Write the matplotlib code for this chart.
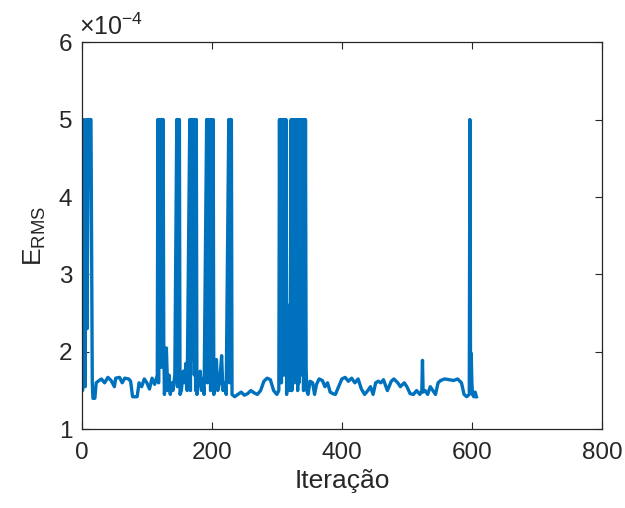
import numpy as np
import matplotlib
matplotlib.use('Agg')
import matplotlib.pyplot as plt

plt.rcParams['font.family'] = ['Liberation Sans', 'DejaVu Sans']

# iteration / E_RMS (in units of 1e-4)
iters = [0, 1, 3, 5, 7, 8, 10, 12, 14, 16, 17, 20,
         22, 25, 30, 35, 40, 45, 50, 52, 58, 62, 66, 72, 75, 78, 85,
         88, 92, 96, 100, 104, 108, 112, 116,
         117, 118, 119, 120, 121, 122, 123, 124, 125, 126, 127,
         128, 130, 132, 134, 136, 138, 140, 143,
         146, 147, 148, 149, 150, 151,
         153, 156, 158, 160, 162,
         166, 167, 168, 169, 170, 171, 172, 173, 174, 175, 176, 177,
         179, 182, 184, 186, 188,
         192, 193, 195, 196, 197, 198, 199, 200, 201, 202, 203,
         205, 207, 209, 212, 215, 217, 220, 222,
         226, 227, 228, 229, 230, 231,
         235, 240, 245, 250, 255, 260, 265, 270, 275, 280, 285, 290, 295, 300,
         303, 304, 305, 306, 307, 308, 309, 310, 311, 312, 313, 314, 315, 316,
         317, 318, 320, 322, 323, 324, 325, 326, 327, 328, 329, 330, 331, 332,
         333, 334, 335, 336, 337, 338, 339, 340, 341, 342, 343, 344, 345, 346,
         348, 351, 355, 358, 361, 365, 370, 374, 378, 382, 386, 390, 395, 400,
         405, 410, 415, 420, 425, 430, 435, 440, 444, 448, 452, 456, 460, 464,
         470, 476, 480, 486, 490, 496, 500, 505, 510, 515, 520, 523, 524, 525,
         528, 532, 536, 540, 544, 548, 552, 558, 565, 572, 578, 584, 588, 592,
         596, 597, 598, 599, 600, 601, 603, 605, 607]
erms = [2.25, 1.5, 5.0, 1.55, 5.0, 2.3, 5.0, 5.0, 5.0, 1.6, 1.4, 1.4,
        1.6, 1.62, 1.65, 1.6, 1.67, 1.63, 1.55, 1.66, 1.67, 1.6, 1.66, 1.65, 1.62, 1.42, 1.42,
        1.6, 1.55, 1.65, 1.6, 1.52, 1.66, 1.58, 1.7,
        5.0, 1.6, 5.0, 2.05, 5.0, 1.8, 5.0, 2.0, 5.0, 2.1, 1.45,
        1.6, 2.05, 1.5, 1.7, 1.45, 1.6, 1.5, 1.7,
        5.0, 1.55, 5.0, 1.6, 5.0, 1.45,
        1.5, 1.75, 1.6, 1.85, 1.5,
        5.0, 1.5, 5.0, 1.9, 5.0, 4.0, 5.0, 1.7, 5.0, 1.5, 5.0, 1.45,
        1.6, 1.75, 1.5, 1.65, 1.45,
        5.0, 1.6, 5.0, 4.9, 5.0, 1.5, 5.0, 1.8, 4.8, 5.0, 1.45,
        1.6, 1.9, 1.5, 1.6, 1.95, 1.5, 1.6, 1.45,
        5.0, 1.6, 5.0, 5.0, 5.0, 1.45,
        1.42, 1.45, 1.48, 1.44, 1.46, 1.5, 1.47, 1.45, 1.5, 1.62, 1.66, 1.64, 1.5, 1.45,
        1.5, 5.0, 2.3, 5.0, 1.6, 5.0, 2.0, 5.0, 1.7, 5.0, 2.2, 5.0, 1.45, 2.4,
        1.6, 2.6, 1.5, 5.0, 1.5, 5.0, 2.0, 5.0, 1.6, 5.0, 3.0, 5.0, 5.0, 1.5,
        5.0, 1.6, 5.0, 2.0, 5.0, 5.0, 1.7, 5.0, 1.5, 5.0, 2.3, 5.0, 1.8, 1.5,
        1.45, 1.62, 1.6, 1.45, 1.58, 1.65, 1.63, 1.55, 1.6, 1.48, 1.46, 1.45, 1.55, 1.65,
        1.67, 1.62, 1.66, 1.6, 1.65, 1.52, 1.45, 1.5, 1.55, 1.45, 1.6, 1.62, 1.6, 1.64,
        1.5, 1.62, 1.65, 1.6, 1.55, 1.6, 1.55, 1.46, 1.45, 1.5, 1.45, 1.5, 1.89, 1.48,
        1.5, 1.45, 1.55, 1.5, 1.45, 1.6, 1.63, 1.65, 1.64, 1.63, 1.65, 1.6, 1.45, 1.42,
        1.45, 5.0, 1.5, 1.98, 1.6, 1.45, 1.42, 1.48, 1.42]

fig = plt.figure(figsize=(6.25, 5.08), dpi=100)
ax = fig.add_axes([0.131, 0.155, 0.832, 0.762])

ax.plot(iters, erms, color='#0072BD', linewidth=2.4)

ax.set_xlim(0, 800)
ax.set_ylim(1, 6)
ax.set_xticks([0, 200, 400, 600, 800])
ax.set_yticks([1, 2, 3, 4, 5, 6])
ax.tick_params(direction='in', length=5, width=0.8, top=True, right=True,
               labelsize=17.5, colors='#262626')
ax.tick_params(axis='x', pad=9)
ax.tick_params(axis='y', pad=7)
for s in ax.spines.values():
    s.set_color('#262626')
    s.set_linewidth(0.9)

ax.set_xlabel('Iteração', fontsize=19, color='#262626', labelpad=4)
ax.set_ylabel(r'$\mathregular{E_{RMS}}$', fontsize=19, color='#262626', labelpad=8)
ax.text(-0.005, 1.005, r'$\mathregular{\times10^{-4}}$', transform=ax.transAxes,
        fontsize=18, color='#262626', ha='left', va='bottom')

fig.savefig('out.png', dpi=100, facecolor='white')
